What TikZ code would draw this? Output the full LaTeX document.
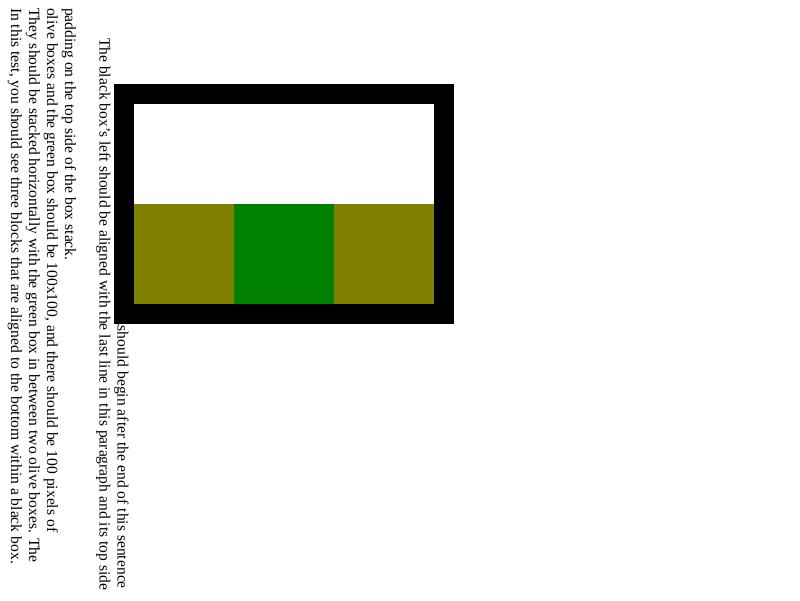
\documentclass[tikz,border=0pt]{standalone}
\usepackage{fontspec}
\setmainfont{Liberation Serif}
\definecolor{olivebox}{RGB}{128,128,0}
\definecolor{greenbox}{RGB}{0,128,0}
\begin{document}
\begin{tikzpicture}[x=1pt,y=-1pt,
  txt/.style={rotate=-90,anchor=base west,inner sep=0pt,outer sep=0pt,font=\fontsize{15.6}{18}\selectfont},
  blk/.style={draw=none,inner sep=0pt,outer sep=0pt,minimum width=100pt,minimum height=100pt,anchor=north west}]
\useasboundingbox[fill=white] (0,0) rectangle (800,600);
\node[txt] (l1) at (11,8) {In this test, you should see three blocks that are aligned to the bottom within a black box.};
\node[txt] (l2) at (29,8) {They should be stacked horizontally with the green box in between two olive boxes. The};
\node[txt] (l3) at (47,8) {olive boxes and the green box should be 100x100, and there should be 100 pixels of};
\node[txt] (l4) at (65,8) {padding on the top side of the box stack.};
\node[txt] (l5) at (99.5,38) {The black box's left should be aligned with the last line in this paragraph and its top side};
\node[txt] (l6) at (117.5,322) {.should begin after the end of this sentence};
\fill[black] (114,84) rectangle (454,324);
\fill[white] (134,104) rectangle (434,204);
\node[blk,fill=olivebox] (o1) at (134,204) {};
\node[blk,fill=greenbox] (g) at (234,204) {};
\node[blk,fill=olivebox] (o2) at (334,204) {};
\end{tikzpicture}
\end{document}
